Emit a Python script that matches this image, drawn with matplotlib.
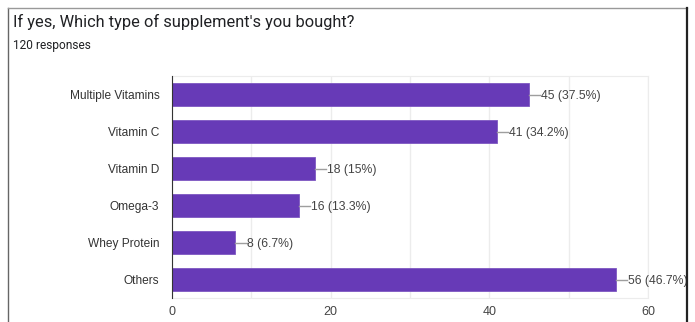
import matplotlib
matplotlib.use('Agg')
import matplotlib.pyplot as plt
from matplotlib.lines import Line2D

# Survey data
categories = ['Multiple Vitamins', 'Vitamin C', 'Vitamin D', 'Omega-3', 'Whey Protein', 'Others']
counts = [45, 41, 18, 16, 8, 56]
percents = ['37.5%', '34.2%', '15%', '13.3%', '6.7%', '46.7%']
x_ticks = [0, 20, 40, 60]

plt.rcParams['font.family'] = ['Liberation Sans', 'DejaVu Sans']

W, H = 695, 322
fig = plt.figure(figsize=(W / 100, H / 100), dpi=100)
fig.patch.set_facecolor('white')

# screenshot frame
fig.add_artist(Line2D([8 / W, 8 / W], [0, 1 - 8 / H], color='#666666', lw=1))
fig.add_artist(Line2D([8 / W, 687 / W], [1 - 8 / H, 1 - 8 / H], color='#999999', lw=1))
fig.add_artist(Line2D([687 / W, 687 / W], [0, 1 - 8 / H], color='#222222', lw=1.6))

fig.text(13 / W, 1 - 22 / H, "If yes, Which type of supplement's you bought?",
         fontsize=11.8, color='#202124', va='center', ha='left', family='Roboto')
fig.text(13 / W, 1 - 46 / H, '120 responses', fontsize=8.6, color='#202124',
         va='center', ha='left', family='Roboto')

ax = fig.add_axes([172 / W, 1 - 298 / H, (648 - 172) / W, (298 - 76) / H])
y = list(range(len(categories)))
ax.barh(y, counts, height=0.62, color='#673ab7', edgecolor='#7e57c2', linewidth=0.6, zorder=3)

for yi, c, p in zip(y, counts, percents):
    ax.plot([c, c + 1.4], [yi, yi], color='#9e9e9e', lw=1, zorder=3, clip_on=False)
    ax.text(c + 1.5, yi, f'{c} ({p})', va='center_baseline', ha='left', fontsize=8.8,
            color='#444444', clip_on=False)

ax.set_xlim(0, 60)
ax.set_ylim(len(categories) - 0.5, -0.5)
ax.set_yticks(y)
ax.set_yticklabels(categories, fontsize=8.6, color='#333333')
ax.set_xticks(x_ticks)
ax.set_xticklabels([str(t) for t in x_ticks], fontsize=9, color='#444444')
ax.set_xticks([10, 30, 50], minor=True)
ax.tick_params(axis='both', which='both', length=0)
ax.tick_params(axis='y', pad=9)
ax.tick_params(axis='x', pad=6)
ax.grid(axis='x', which='both', color='#ececec', lw=1, zorder=0)

for side in ['top', 'right', 'bottom']:
    ax.spines[side].set_color('#ececec')
ax.spines['left'].set_color('#333333')
ax.spines['left'].set_zorder(4)

fig.savefig('out.png', dpi=100)
